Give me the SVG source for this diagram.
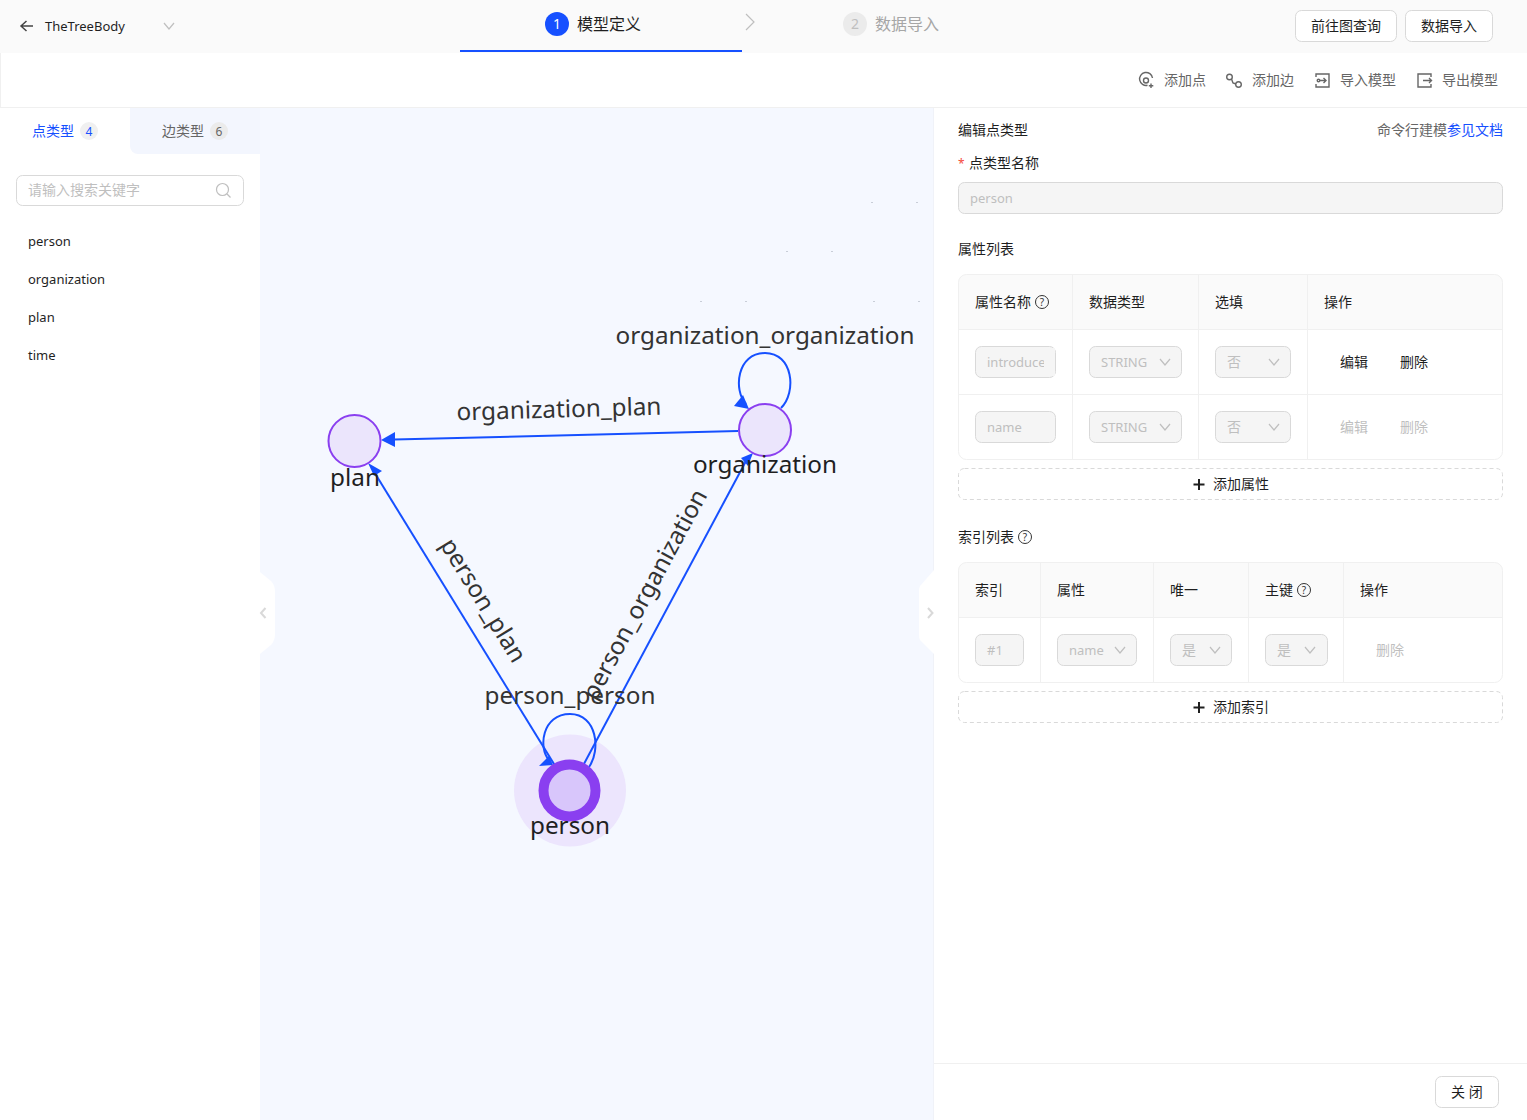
<svg xmlns="http://www.w3.org/2000/svg" width="1527" height="1120" viewBox="0 0 1527 1120">
<defs>
<style>
text{font-family:"Noto Sans","Noto Sans CJK SC",sans-serif;font-size:14px;fill:#1f1f1f}
.l{font-size:13px}
.g{fill:#666}.d{fill:#bfbfbf}.b{fill:#1650ff}
.ctl{fill:#f5f5f5;stroke:#d9d9d9;stroke-width:1}
.ln{stroke:#f0f0f0;stroke-width:1;fill:none}
.chev{fill:none;stroke:#bfbfbf;stroke-width:1.2}
.ic{fill:none;stroke:#666;stroke-width:1.4}
.btn{fill:#fff;stroke:#d9d9d9;stroke-width:1}
.dash{fill:#fff;stroke:#d9d9d9;stroke-width:1;stroke-dasharray:4 3}
.edge{fill:none;stroke:#1650ff;stroke-width:2}
.head{fill:#1650ff}
.lbl{font-size:24.300px;fill:#333;text-anchor:middle}
.nl{font-size:24.300px;fill:#1f1f1f;text-anchor:middle}
.node{fill:#ebe5fc;stroke:#8a3ff0;stroke-width:2}
.q{fill:none;stroke:#333;stroke-width:1}
.qt{font-size:10px;fill:#333;text-anchor:middle}
.plus{stroke:#1f1f1f;stroke-width:2;fill:none}
</style>
</defs>
<rect width="1527" height="1120" fill="#fff"/>
<rect x="260" y="108" width="674" height="1012" fill="#f5f8ff"/>
<g id="topbar">
<rect width="1527" height="53" fill="#fafafa"/>
<path d="M33 26H21.500M26.500 21L21 26L26.500 31" fill="none" stroke="#444" stroke-width="1.500"/>
<text x="45" y="31" class="l">TheTreeBody</text>
<path class="chev" d="M164 23L169 29L174 23"/>
<circle cx="557" cy="24" r="12" fill="#1650ff"/>
<text x="557" y="29" text-anchor="middle" style="fill:#fff">1</text>
<text x="577" y="30" style="font-size:16px">模型定义</text>
<rect x="460" y="50" width="282" height="2" fill="#1650ff"/>
<path class="chev" d="M746 14L754 22L746 30"/>
<circle cx="855" cy="24" r="12" fill="#ebebeb"/>
<text x="855" y="29" text-anchor="middle" class="d">2</text>
<text x="875" y="30" class="d" style="font-size:16px;fill:#a6a6a6">数据导入</text>
<rect class="btn" x="1295.500" y="10.500" width="101" height="31" rx="6"/>
<text x="1311" y="31">前往图查询</text>
<rect class="btn" x="1405.500" y="10.500" width="87" height="31" rx="6"/>
<text x="1421" y="31">数据导入</text>
</g>
<g id="toolbar">
<path class="ln" d="M0 107.500H1527"/>
<path class="ln" d="M.5 53V107"/>
<path class="ic" d="M1152.500 78a6.500 6.500 0 1 0-5 7.300"/>
<circle class="ic" cx="1146" cy="80.500" r="2.500"/>
<path class="ic" d="M1151 83.500v4.500M1148.800 85.800h4.500"/>
<text x="1164" y="85" class="g">添加点</text>
<circle class="ic" cx="1229.500" cy="77" r="2.800"/>
<circle class="ic" cx="1238.500" cy="84.500" r="2.800"/>
<path class="ic" d="M1231.500 79L1233 83L1236 84"/>
<text x="1252" y="85" class="g">添加边</text>
<path class="ic" d="M1316 77v-3h13v13h-13v-3"/>
<path class="ic" d="M1320 80.500h6M1323.500 78l2.500 2.500l-2.500 2.500"/>
<circle class="ic" cx="1318.500" cy="80.500" r="1.300"/>
<text x="1340" y="85" class="g">导入模型</text>
<path class="ic" d="M1431 77v-3h-13v13h13v-3"/>
<path class="ic" d="M1423 80.500h8.500M1429 78l2.500 2.500l-2.500 2.500"/>
<text x="1442" y="85" class="g">导出模型</text>
</g>
<g id="sidebar">
<rect x="0" y="108" width="260" height="1012" fill="#fff"/>
<path d="M130 108H260V154H138a8 8 0 0 1-8-8Z" fill="#f3f6fe"/>
<text x="32" y="136" class="b">点类型</text>
<circle cx="89" cy="131" r="9" fill="#f0f0f0"/>
<text x="89" y="136" text-anchor="middle" class="b" style="font-size:12px">4</text>
<text x="162" y="136" class="g">边类型</text>
<circle cx="219" cy="131" r="9" fill="#ebebeb"/>
<text x="219" y="136" text-anchor="middle" class="g" style="font-size:12px">6</text>
<rect class="btn" x="16.500" y="175.500" width="227" height="30" rx="6"/>
<text x="28" y="195" class="d">请输入搜索关键字</text>
<circle cx="222.500" cy="189.500" r="6" fill="none" stroke="#bfbfbf" stroke-width="1.200"/>
<path d="M227 194l3.500 3.500" fill="none" stroke="#bfbfbf" stroke-width="1.200"/>
<text x="28" y="246" class="l">person</text>
<text x="28" y="284" class="l">organization</text>
<text x="28" y="322" class="l">plan</text>
<text x="28" y="360" class="l">time</text>
<path d="M260 572L271 581Q275 585 275 592V634Q275 641 271 645L260 654Z" fill="#fff"/>
<path d="M265.500 608L261 613L265.500 618" fill="none" stroke="#d9d9d9" stroke-width="2"/>
</g>
<g id="canvas-dots" fill="#c9ced8">
<rect x="871" y="202" width="2" height="1"/><rect x="916" y="202" width="2" height="1"/>
<rect x="786" y="251" width="2" height="1"/><rect x="831" y="251" width="2" height="1"/>
<rect x="700" y="301" width="2" height="1"/><rect x="745" y="301" width="2" height="1"/>
<rect x="873" y="301" width="2" height="1"/><rect x="918" y="301" width="2" height="1"/>
</g>
<g id="person-halo"><circle cx="570" cy="790.500" r="56" fill="#ece5fd"/></g>
<g id="connectors">
<path class="edge" d="M738 431L394 439.600"/>
<path class="head" d="M381 440L395 432V447Z"/>
<path class="edge" d="M570 790L376 475"/>
<path class="head" d="M368 463L382 471L374 476Z"/>
<path class="edge" d="M570 790L746 461"/>
<path class="head" d="M753 453L741 458L748 466Z"/>
<path class="edge" d="M781 408C797 392 793 353 765 353C737 353 733 390 746 404"/>
<path class="head" d="M749 409L734 406L743 395Z"/>
<path class="edge" d="M589 767C601 750 597 714 570 714C542 714 538 748 549 760"/>
<path class="head" d="M553 765L539 766L549 756Z"/>
</g>
<g id="node-person">
<circle cx="569.500" cy="790.500" r="26" fill="#d8c6fb" stroke="#8a3ff0" stroke-width="10"/>
</g>
<g id="node-plan"><circle class="node" cx="354.500" cy="441" r="26"/></g>
<g id="node-organization"><circle class="node" cx="765" cy="430" r="26"/></g>
<g id="labels">
<text class="lbl" x="765" y="343.500">organization_organization</text>
<text class="lbl" x="559" y="417.500" transform="rotate(-1.600 559 409)">organization_plan</text>
<text class="lbl" x="570" y="704">person_person</text>
<text class="lbl" x="484" y="609" transform="rotate(58.400 484 600)">person_plan</text>
<text class="lbl" x="644" y="603" transform="rotate(-61.600 644 594)">person_organization</text>
<text class="nl" x="355" y="486">plan</text>
<text class="nl" x="765" y="473">organization</text>
<text class="nl" x="570" y="834">person</text>
</g>
<g id="right-panel">
<rect x="934" y="108" width="593" height="1012" fill="#fff"/>
<path d="M933.500 108V1120" stroke="#f0f2f8" fill="none"/>
<path d="M934 570L920 586Q919 588 919 592V634Q919 638 920 640L934 654Z" fill="#fff"/>
<path d="M928 608L932.500 613L928 618" fill="none" stroke="#d9d9d9" stroke-width="2"/>
<text x="958" y="135">编辑点类型</text>
<text x="1377" y="135" class="g">命令行建模<tspan class="b">参见文档</tspan></text>
<text x="958" y="168" style="fill:#f5483b;font-size:12px">*</text>
<text x="969" y="168">点类型名称</text>
<rect class="ctl" x="958.500" y="182.500" width="544" height="31" rx="6"/>
<text x="970" y="203" class="d l">person</text>
<text x="958" y="254">属性列表</text>
<g id="prop-table">
<path d="M966 274.500H1495a8 8 0 0 1 8 8V329H958V282.500a8 8 0 0 1 8-8Z" fill="#fafafa"/>
<rect class="ln" x="958.500" y="274.500" width="544" height="185" rx="8"/>
<path class="ln" d="M958 329.500H1503M958 394.500H1503M1072.500 275V459M1198.500 275V459M1307.500 275V459"/>
<text x="975" y="307">属性名称</text>
<circle class="q" cx="1042" cy="302" r="6.500"/><text class="qt" x="1042" y="305.500">?</text>
<text x="1089" y="307">数据类型</text>
<text x="1215" y="307">选填</text>
<text x="1324" y="307">操作</text>
<rect class="ctl" x="975.500" y="346.500" width="80" height="31" rx="6"/>
<text x="987" y="367" class="d l">introduce</text>
<rect x="1044" y="348" width="11" height="28" fill="#f5f5f5"/>
<rect class="ctl" x="1089.500" y="346.500" width="92" height="31" rx="6"/>
<text x="1101" y="367" class="d l">STRING</text>
<path class="chev" d="M1160 359L1165 365L1170 359"/>
<rect class="ctl" x="1215.500" y="346.500" width="75" height="31" rx="6"/>
<text x="1227" y="367" class="d">否</text>
<path class="chev" d="M1269 359L1274 365L1279 359"/>
<text x="1340" y="367">编辑</text>
<text x="1400" y="367">删除</text>
<rect class="ctl" x="975.500" y="411.500" width="80" height="31" rx="6"/>
<text x="987" y="432" class="d l">name</text>
<rect class="ctl" x="1089.500" y="411.500" width="92" height="31" rx="6"/>
<text x="1101" y="432" class="d l">STRING</text>
<path class="chev" d="M1160 424L1165 430L1170 424"/>
<rect class="ctl" x="1215.500" y="411.500" width="75" height="31" rx="6"/>
<text x="1227" y="432" class="d">否</text>
<path class="chev" d="M1269 424L1274 430L1279 424"/>
<text x="1340" y="432" class="d">编辑</text>
<text x="1400" y="432" class="d">删除</text>
</g>
<rect class="dash" x="958.500" y="468.500" width="544" height="31" rx="6"/>
<path class="plus" d="M1199 479V490M1193.500 484.500H1204.500"/>
<text x="1213" y="489">添加属性</text>
<text x="958" y="542">索引列表</text>
<circle class="q" cx="1025" cy="537" r="6.500"/><text class="qt" x="1025" y="540.500">?</text>
<g id="index-table">
<path d="M966 562.500H1495a8 8 0 0 1 8 8V617H958V570.500a8 8 0 0 1 8-8Z" fill="#fafafa"/>
<rect class="ln" x="958.500" y="562.500" width="544" height="120" rx="8"/>
<path class="ln" d="M958 617.500H1503M1040.500 563V682M1153.500 563V682M1248.500 563V682M1343.500 563V682"/>
<text x="975" y="595">索引</text>
<text x="1057" y="595">属性</text>
<text x="1170" y="595">唯一</text>
<text x="1265" y="595">主键</text>
<circle class="q" cx="1304" cy="590" r="6.500"/><text class="qt" x="1304" y="593.500">?</text>
<text x="1360" y="595">操作</text>
<rect class="ctl" x="975.500" y="634.500" width="48" height="31" rx="6"/>
<text x="987" y="655" class="d l">#1</text>
<rect class="ctl" x="1057.500" y="634.500" width="79" height="31" rx="6"/>
<text x="1069" y="655" class="d l">name</text>
<path class="chev" d="M1115 647L1120 653L1125 647"/>
<rect class="ctl" x="1170.500" y="634.500" width="61" height="31" rx="6"/>
<text x="1182" y="655" class="d">是</text>
<path class="chev" d="M1210 647L1215 653L1220 647"/>
<rect class="ctl" x="1265.500" y="634.500" width="62" height="31" rx="6"/>
<text x="1277" y="655" class="d">是</text>
<path class="chev" d="M1305 647L1310 653L1315 647"/>
<text x="1376" y="655" class="d">删除</text>
</g>
<rect class="dash" x="958.500" y="691.500" width="544" height="31" rx="6"/>
<path class="plus" d="M1199 702V713M1193.500 707.500H1204.500"/>
<text x="1213" y="712">添加索引</text>
<path class="ln" d="M934 1063.500H1527"/>
<rect class="btn" x="1435.500" y="1076.500" width="63" height="31" rx="6"/>
<text x="1451" y="1097">关 闭</text>
</g>
</svg>
